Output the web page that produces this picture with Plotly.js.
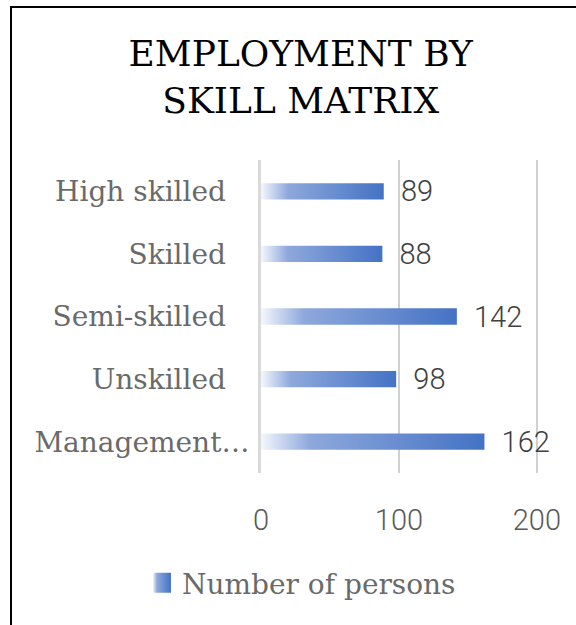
<!DOCTYPE html>
<html>
<head>
<meta charset="utf-8">
<script src="https://cdn.plot.ly/plotly-3.0.1.min.js"></script>
<style>
  html, body { margin: 0; padding: 0; background: #fff; overflow: hidden; }
  #frame { position: absolute; left: 10px; top: 6px; width: 700px; height: 800px; border: 2px solid #000; }
  #chart { position: absolute; left: 0; top: 0; width: 576px; height: 625px; }
</style>
</head>
<body>
<div id="frame"></div>
<div id="chart"></div>
<script>
// Employment by skill matrix (horizontal bars)
const categories = ['High skilled', 'Skilled', 'Semi-skilled', 'Unskilled', 'Management…'];
const persons = [89, 88, 142, 98, 162];
const xTicks = [0, 100, 200];

const serifFont = "'DejaVu Serif', serif";
const labelFont = { family: serifFont, size: 28, color: '#6a6a6a' };

// the truncated label sits closer to the axis than the others
const tickText = categories.map(c => c.endsWith('…') ? c : c + '\u00a0\u00a0\u2009');

const trace = {
  type: 'bar',
  orientation: 'h',
  y: categories,
  x: persons,
  name: 'Number of persons',
  width: 0.26,
  marker: { color: '#4472c4', line: { width: 0 } },
  text: persons.map(v => '\u00a0\u00a0' + v),
  textposition: 'outside',
  textfont: { family: 'Roboto, sans-serif', size: 29, color: '#404040', weight: 300 },
  cliponaxis: false,
  constraintext: 'none',
  hoverinfo: 'skip'
};

const layout = {
  width: 576,
  height: 625,
  paper_bgcolor: 'rgba(0,0,0,0)',
  plot_bgcolor: 'rgba(0,0,0,0)',
  margin: { l: 261, r: 35, t: 160, b: 152 },
  title: {
    text: 'EMPLOYMENT BY<br>SKILL MATRIX',
    font: { family: serifFont, size: 36, color: '#000' },
    xref: 'container', x: 0.522,
    yref: 'container', y: 0.894, yanchor: 'top'
  },
  xaxis: {
    range: [0, 203],
    tickvals: xTicks,
    ticks: 'outside', ticklen: 21, tickcolor: 'rgba(0,0,0,0)',
    showgrid: true, gridcolor: '#d0d0d0', gridwidth: 2,
    zeroline: false, showline: false,
    tickfont: { family: 'Roboto, sans-serif', size: 29, color: '#595959', weight: 300 },
    fixedrange: true
  },
  yaxis: {
    autorange: 'reversed',
    tickvals: categories,
    ticktext: tickText,
    ticks: 'outside', ticklen: 3, tickcolor: 'rgba(0,0,0,0)',
    showline: true, linecolor: '#d9d9d9', linewidth: 3,
    showgrid: false, zeroline: false,
    tickfont: labelFont,
    fixedrange: true
  },
  showlegend: true,
  legend: {
    orientation: 'h',
    xref: 'container', x: 0.2465, xanchor: 'left',
    yref: 'container', y: 0.067, yanchor: 'middle',
    font: labelFont,
    itemwidth: 30
  },
  bargap: 0.74
};

Plotly.newPlot('chart', [trace], layout, { displayModeBar: false, staticPlot: true }).then(function (gd) {
  // Plotly has no gradient fill for bars; add one to the svg defs
  const ns = 'http://www.w3.org/2000/svg';
  const svg = gd.querySelector('svg.main-svg');
  let defs = svg.querySelector('defs');
  if (!defs) { defs = document.createElementNS(ns, 'defs'); svg.insertBefore(defs, svg.firstChild); }
  const grad = document.createElementNS(ns, 'linearGradient');
  grad.setAttribute('id', 'barGrad');
  grad.setAttribute('x1', '0'); grad.setAttribute('y1', '0');
  grad.setAttribute('x2', '1'); grad.setAttribute('y2', '0');
  [['0', '#f4f7fc'], ['0.22', '#8ea8dc'], ['1', '#4472c4']].forEach(function (s) {
    const stop = document.createElementNS(ns, 'stop');
    stop.setAttribute('offset', s[0]);
    stop.setAttribute('stop-color', s[1]);
    grad.appendChild(stop);
  });
  defs.appendChild(grad);
  gd.querySelectorAll('.bars path').forEach(function (p) {
    p.style.fill = 'url(#barGrad)';
  });
  // larger legend swatch, like the original
  gd.querySelectorAll('.legendpoints path').forEach(function (p) {
    p.setAttribute('d', 'M-9,-10h18v20h-18z');
    p.style.fill = 'url(#barGrad)';
  });
});
</script>
</body>
</html>
